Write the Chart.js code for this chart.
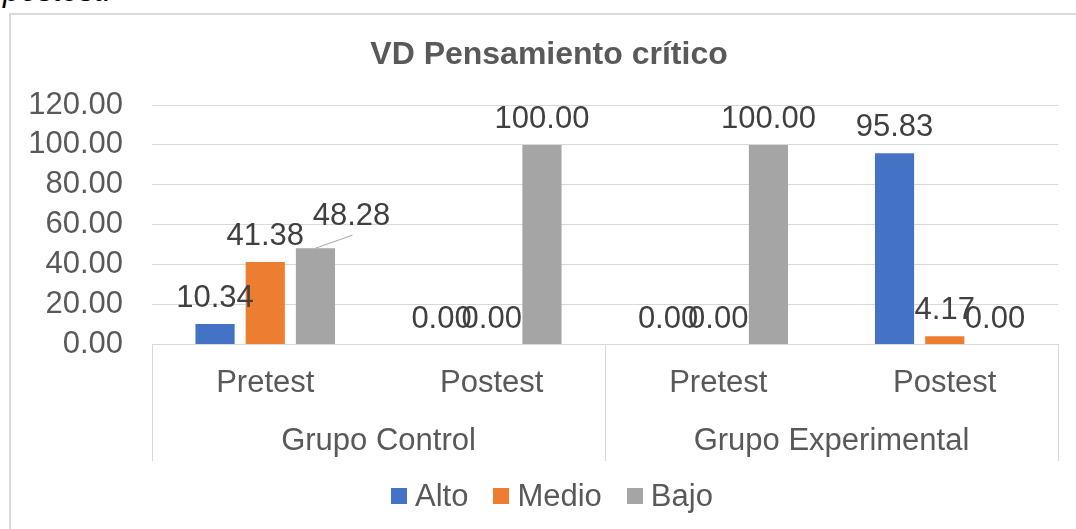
<!DOCTYPE html>
<html>
<head>
<meta charset="utf-8">
<script src="https://cdn.jsdelivr.net/npm/chart.js@4.4.1/dist/chart.umd.min.js"></script>
<style>
html, body { margin:0; padding:0; background:#fff; width:1076px; height:529px; overflow:hidden; position:relative; font-family:"Liberation Sans", Arial, sans-serif; }
#caption { position:absolute; left:3px; top:-25px; font-size:31px; line-height:31px; font-style:italic; color:#000; white-space:nowrap; }
#frame { position:absolute; left:9px; top:13px; width:1100px; height:560px; border:2px solid #dadada; box-sizing:border-box; }
#chart { position:absolute; left:0; top:0; }
#title { position:absolute; left:0; top:35px; width:1098px; text-align:center; font-weight:bold; font-size:32px; line-height:36px; color:#595959; }
#legend { position:absolute; left:391px; top:478px; height:36px; display:flex; align-items:center; font-size:31px; color:#595959; }
#legend .item { display:flex; align-items:center; margin-right:25px; }
#legend .box { width:16px; height:16px; margin-right:8px; }
</style>
</head>
<body>
<div id="caption">postest.</div>
<div id="frame"></div>
<canvas id="chart" width="1076" height="529"></canvas>
<div id="title">VD Pensamiento crítico</div>
<div id="legend"></div>
<script>
// chart data
const categories = ['Pretest', 'Postest', 'Pretest', 'Postest'];
const groups = ['Grupo Control', 'Grupo Experimental'];
const seriesNames = ['Alto', 'Medio', 'Bajo'];
const alto = [10.34, 0.00, 0.00, 95.83];
const medio = [41.38, 0.00, 0.00, 4.17];
const bajo = [48.28, 100.00, 100.00, 0.00];
const yTicks = [0, 20, 40, 60, 80, 100, 120];

const colors = ['#4472c4', '#ed7d31', '#a5a5a5'];
const FONT = '"Liberation Sans", Arial, sans-serif';

// the 48.28 label was dragged aside in the original, with a leader line
const labelShift = { '2-0': { dx: 36, dy: -6, leader: true } };

// value labels above each bar
const barLabels = {
  id: 'barLabels',
  afterDatasetsDraw(chart){
    const ctx = chart.ctx;
    ctx.save();
    ctx.font = '31px ' + FONT;
    ctx.fillStyle = '#404040';
    ctx.textAlign = 'center';
    ctx.textBaseline = 'alphabetic';
    chart.data.datasets.forEach((ds, di)=>{
      chart.getDatasetMeta(di).data.forEach((bar, i)=>{
        const s = labelShift[di + '-' + i] || { dx:0, dy:0 };
        const x = bar.x + s.dx;
        const y = bar.y - 17 + s.dy;
        if(s.leader){
          ctx.strokeStyle = '#a6a6a6';
          ctx.lineWidth = 1;
          ctx.beginPath();
          ctx.moveTo(bar.x, bar.y);
          ctx.lineTo(x + 1, y + 10);
          ctx.stroke();
        }
        ctx.fillText(ds.data[i].toFixed(2), x, y);
      });
    });
    ctx.restore();
  }
};

// vertical separators in the two-level category axis
const groupLines = {
  id: 'groupLines',
  afterDraw(chart){
    const x = chart.scales.x, x2 = chart.scales.x2;
    const mid = (x.getPixelForValue(1) + x.getPixelForValue(2)) / 2;
    const ctx = chart.ctx;
    ctx.save();
    ctx.strokeStyle = '#d9d9d9';
    ctx.lineWidth = 1;
    [x.left, mid, x.right].forEach(px=>{
      const p = Math.round(px) + 0.5;
      ctx.beginPath();
      ctx.moveTo(p, x.top);
      ctx.lineTo(p, x2.bottom);
      ctx.stroke();
    });
    ctx.restore();
  }
};

const datasets = [alto, medio, bajo].map((d, i)=>({
  label: seriesNames[i],
  data: d,
  backgroundColor: colors[i],
  borderWidth: 0,
  categoryPercentage: 0.665,
  barPercentage: 0.78
}));

new Chart(document.getElementById('chart').getContext('2d'), {
  type: 'bar',
  data: { labels: categories, datasets },
  options: {
    responsive: false,
    animation: false,
    layout: { padding: { top: 105, left: 0, right: 18, bottom: 68 } },
    plugins: {
      legend: { display: false },
      title: { display: false },
      tooltip: { enabled: false }
    },
    scales: {
      y: {
        min: 0, max: 120,
        afterBuildTicks: s => { s.ticks = yTicks.map(v=>({ value: v })); },
        afterFit: s => { s.width = 152; },
        ticks: {
          padding: 29,
          autoSkip: false,
          color: '#595959',
          font: { family: FONT, size: 31 },
          callback: v => Number(v).toFixed(2)
        },
        grid: { color: '#d9d9d9', lineWidth: 1, drawTicks: false },
        border: { display: false }
      },
      x: {
        grid: { display: false, drawTicks: false },
        border: { display: true, color: '#d9d9d9' },
        ticks: {
          padding: 20, autoSkip: false, maxRotation: 0,
          color: '#595959', font: { family: FONT, size: 31 }
        }
      },
      x2: {
        type: 'category',
        labels: groups,
        position: 'bottom',
        offset: true,
        grid: { display: false, drawTicks: false },
        border: { display: false },
        ticks: {
          padding: 1, autoSkip: false, maxRotation: 0,
          color: '#595959', font: { family: FONT, size: 31 }
        }
      }
    }
  },
  plugins: [barLabels, groupLines]
});

// legend
const legend = document.getElementById('legend');
seriesNames.forEach((name, i)=>{
  const item = document.createElement('div');
  item.className = 'item';
  const box = document.createElement('span');
  box.className = 'box';
  box.style.background = colors[i];
  const txt = document.createElement('span');
  txt.textContent = name;
  item.appendChild(box);
  item.appendChild(txt);
  legend.appendChild(item);
});
</script>
</body>
</html>
